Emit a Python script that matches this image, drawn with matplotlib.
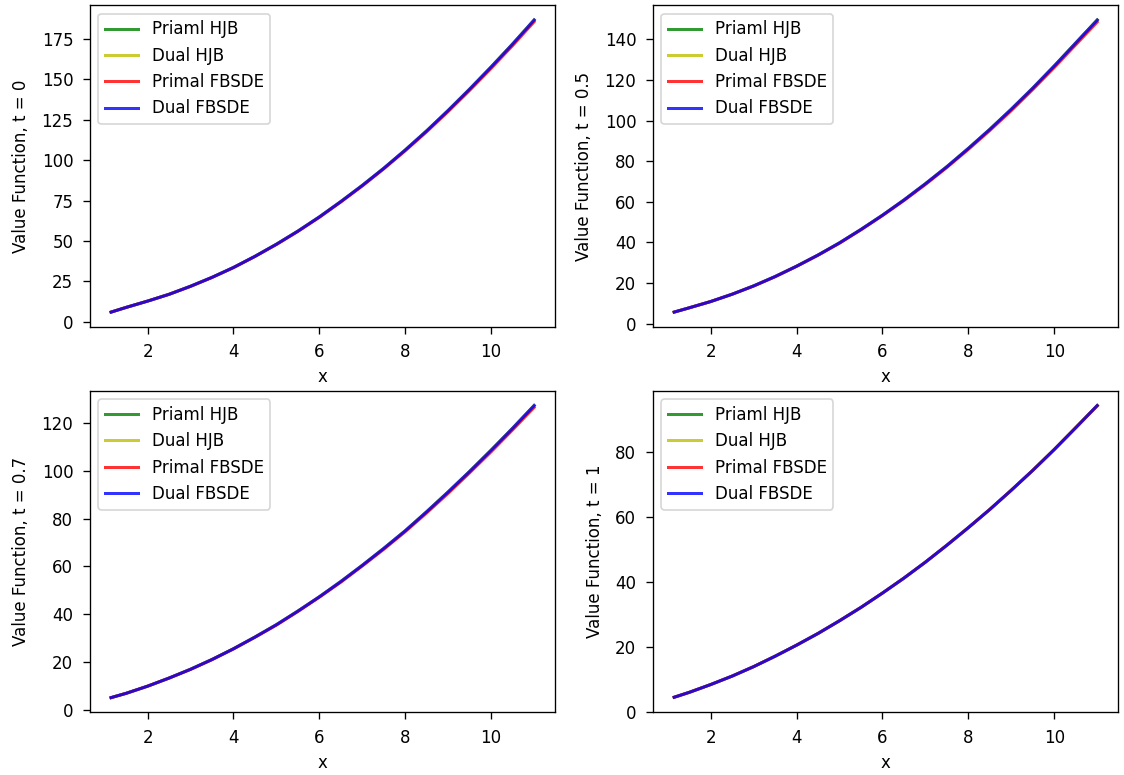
import matplotlib
matplotlib.use("Agg")
import matplotlib.pyplot as plt

# grid of x values
x_vals = [1.15, 1.5, 2, 2.5, 3, 3.5, 4, 4.5, 5, 5.5, 6,
          6.5, 7, 7.5, 8, 8.5, 9, 9.5, 10, 10.5, 11]

# value function
hjb_t0 = [6.0, 8.9, 12.8, 17.0, 22.0, 27.5, 33.6, 40.5, 48.0, 56.1, 64.9,
          74.4, 84.4, 95.0, 106.3, 118.2, 130.8, 144.0, 157.7, 171.9, 186.7]
fbsde_t0 = [6.0, 8.9, 12.8, 17.0, 21.9, 27.4, 33.5, 40.4, 47.8, 55.9, 64.6,
            74.1, 84.0, 94.6, 105.8, 117.6, 130.1, 143.2, 156.8, 170.9, 185.6]

hjb_t05 = [5.7, 7.8, 10.9, 14.5, 18.6, 23.2, 28.3, 33.8, 39.8, 46.4, 53.4,
           60.9, 68.9, 77.3, 86.3, 95.7, 105.6, 116.0, 126.9, 138.2, 149.5]
fbsde_t05 = [5.7, 7.8, 10.9, 14.5, 18.5, 23.1, 28.2, 33.7, 39.6, 46.2, 53.2,
             60.6, 68.5, 76.9, 85.8, 95.1, 104.9, 115.3, 126.1, 137.3, 148.5]

hjb_t07 = [5.0, 6.8, 9.8, 13.2, 16.9, 21.0, 25.5, 30.4, 35.6, 41.3, 47.3,
           53.7, 60.5, 67.6, 75.0, 83.0, 91.3, 99.9, 108.8, 118.0, 127.5]
fbsde_t07 = [5.0, 6.8, 9.8, 13.2, 16.8, 20.9, 25.4, 30.3, 35.4, 41.1, 47.1,
             53.4, 60.2, 67.2, 74.6, 82.5, 90.7, 99.3, 108.1, 117.3, 126.7]

hjb_t1 = [4.6, 6.1, 8.5, 11.1, 14.0, 17.2, 20.6, 24.2, 28.1, 32.2, 36.6,
          41.2, 46.1, 51.3, 56.7, 62.3, 68.2, 74.3, 80.7, 87.4, 94.2]
fbsde_t1 = [4.6, 6.1, 8.5, 11.1, 14.0, 17.2, 20.6, 24.2, 28.1, 32.2, 36.6,
            41.2, 46.1, 51.3, 56.7, 62.3, 68.2, 74.3, 80.7, 87.4, 94.1]

t_labels = ["0", "0.5", "0.7", "1"]
hjb_all = [hjb_t0, hjb_t05, hjb_t07, hjb_t1]
fbsde_all = [fbsde_t0, fbsde_t05, fbsde_t07, fbsde_t1]

plt.rcParams['xtick.major.pad'] = 6
plt.rcParams['ytick.major.pad'] = 6
plt.rcParams['xtick.major.size'] = 4
plt.rcParams['ytick.major.size'] = 4

fig, axes = plt.subplots(2, 2, figsize=(1124 / 120, 775 / 120), dpi=120)
fig.subplots_adjust(left=0.08, right=0.995, top=0.993, bottom=0.081,
                    wspace=0.21, hspace=0.2)

lw = 1.8
for ax, t, hjb, fbsde in zip(axes.flat, t_labels, hjb_all, fbsde_all):
    ax.plot(x_vals, hjb, 'g', alpha=0.8, lw=lw, label='Priaml HJB')
    ax.plot(x_vals, hjb, 'y', alpha=0.8, lw=lw, label='Dual HJB')
    ax.plot(x_vals, fbsde, 'r', alpha=0.8, lw=lw, label='Primal FBSDE')
    ax.plot(x_vals, hjb, 'b', alpha=0.8, lw=lw, label='Dual FBSDE')
    ax.set_xlabel('x')
    ax.set_ylabel('Value Function, t = ' + t, labelpad=7)
    ax.legend(loc='upper left')

# last panel's y axis starts at zero
ax_last = axes[1, 1]
ax_last.set_ylim(0, ax_last.get_ylim()[1])

plt.savefig('out.png', dpi=120)
